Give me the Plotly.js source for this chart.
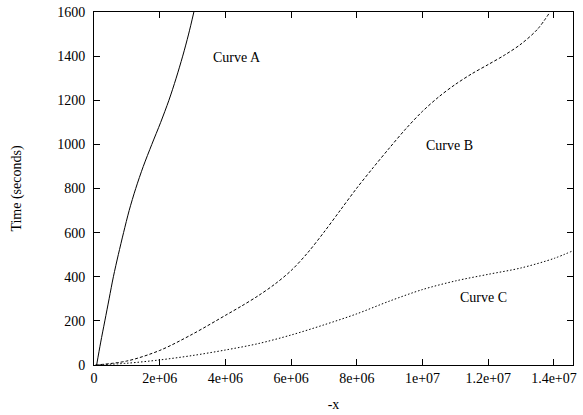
<!DOCTYPE html>
<html><head><meta charset="utf-8">
<script src="https://cdn.plot.ly/plotly-3.0.1.min.js"></script>
<style>html,body{margin:0;padding:0;background:#fff}#chart{width:583px;height:415px}</style>
</head><body><div id="chart"></div>
<script>
const curveAx = [0.08e6, 0.20e6, 0.33e6, 0.46e6, 0.59e6, 0.74e6, 0.90e6, 1.07e6, 1.27e6, 1.50e6, 1.76e6, 2.03e6, 2.28e6, 2.50e6, 2.70e6, 2.88e6, 3.04e6];
const curveAy = [0, 100, 200, 300, 400, 500, 600, 700, 800, 900, 1000, 1100, 1200, 1300, 1400, 1500, 1600];
const curveBx = [0.05e6, 1e6, 2e6, 3e6, 4e6, 4.5e6, 5e6, 5.5e6, 6e6, 6.5e6, 7e6, 7.5e6, 8e6, 8.5e6, 9e6, 9.5e6, 10e6, 10.5e6, 11e6, 11.5e6, 12e6, 12.5e6, 13e6, 13.5e6, 13.88e6];
const curveBy = [0, 18, 66, 140, 225, 268, 314, 366, 428, 508, 602, 702, 802, 895, 985, 1072, 1150, 1216, 1272, 1320, 1362, 1405, 1455, 1522, 1600];
const curveCx = [0.05e6, 1e6, 2e6, 3e6, 4e6, 5e6, 6e6, 7e6, 8e6, 9e6, 10e6, 11e6, 12e6, 13e6, 14e6, 14.58e6];
const curveCy = [0, 8, 23, 43, 68, 97, 136, 182, 232, 290, 342, 381, 411, 440, 483, 518];
const xTickVals = [0, 2e6, 4e6, 6e6, 8e6, 10e6, 12e6, 14e6];
const xTickText = ["0", "2e+06", "4e+06", "6e+06", "8e+06", "1e+07", "1.2e+07", "1.4e+07"];
const yTickVals = [0, 200, 400, 600, 800, 1000, 1200, 1400, 1600];
const labels = ["Curve A", "Curve B", "Curve C"];
const labelX = [4.35e6, 10.83e6, 11.87e6];
const labelY = [1396, 997, 304];

const font = {family: "Liberation Serif", size: 14, color: "#000"};
const traces = [
  {x: curveAx, y: curveAy, mode: "lines", line: {color: "#000", width: 1, shape: "spline", smoothing: 0.9}},
  {x: curveBx, y: curveBy, mode: "lines", line: {color: "#000", width: 1, dash: "3px,2px", shape: "spline", smoothing: 0.9}},
  {x: curveCx, y: curveCy, mode: "lines", line: {color: "#000", width: 1, dash: "1.5px,2px", shape: "spline", smoothing: 0.9}}
];
const axisCommon = {showline: true, linecolor: "#000", linewidth: 1, mirror: "ticks", ticks: "inside", ticklen: 6, tickcolor: "#000", showgrid: false, zeroline: false, tickfont: font};
const layout = {
  width: 583, height: 415,
  margin: {l: 94, r: 10, t: 12, b: 50},
  paper_bgcolor: "#fff", plot_bgcolor: "#fff",
  showlegend: false, font: font,
  xaxis: Object.assign({}, axisCommon, {range: [0, 14.58e6], tickmode: "array", tickvals: xTickVals, ticktext: xTickText, title: {text: "-x", font: font, standoff: 14}}),
  yaxis: Object.assign({}, axisCommon, {range: [0, 1600], tickmode: "array", tickvals: yTickVals, ticklabelstandoff: 5, title: {text: "Time (seconds)", font: font, standoff: 32}}),
  annotations: labels.map((t, i) => ({x: labelX[i], y: labelY[i], text: t, showarrow: false, font: font, xanchor: "center", yanchor: "middle"}))
};
Plotly.newPlot("chart", traces, layout, {staticPlot: true, displayModeBar: false});
</script></body></html>
